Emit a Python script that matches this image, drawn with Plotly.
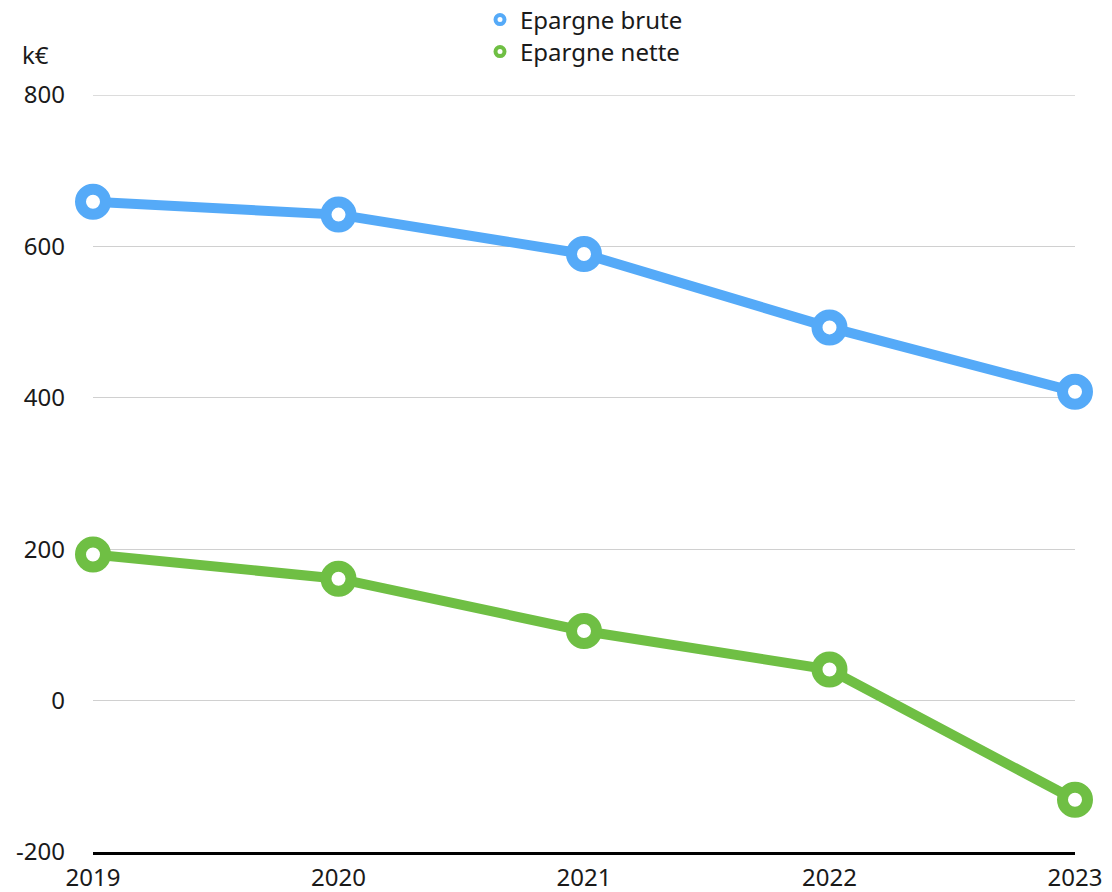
import plotly.graph_objects as go

years = [2019, 2020, 2021, 2022, 2023]
epargne_brute = [659, 642, 590, 493, 408]
epargne_nette = [193, 161, 92, 41, -131]
y_ticks = [-200, 0, 200, 400, 600, 800]
y_tick_labels = ["-200", "0", "200", "400", "600", "800"]

FONT = "Noto Sans"
BLUE = "#55AAF8"
GREEN = "#6FBF44"
GRID = "#d0d0d0"

fig = go.Figure()
series = [("Epargne brute", epargne_brute, BLUE, "legend"),
          ("Epargne nette", epargne_nette, GREEN, "legend2")]
for name, vals, col, lg in series:
    fig.add_trace(go.Scatter(
        x=years, y=vals, name=name, mode="lines+markers",
        line=dict(color=col, width=10),
        marker=dict(symbol="circle", size=25, color="white",
                    line=dict(color=col, width=11)),
        cliponaxis=False, showlegend=False,
    ))
    fig.add_trace(go.Scatter(
        x=[None], y=[None], name=name, mode="markers",
        marker=dict(symbol="circle", size=9, color="white",
                    line=dict(color=col, width=4)),
        showlegend=True, legend=lg,
    ))

def leg(ypix):
    return dict(x=(480 - 93) / 982, xanchor="left", y=1 + (95 - ypix) / 757, yanchor="middle",
                orientation="v", font=dict(size=24), bgcolor="rgba(0,0,0,0)")

fig.update_layout(
    width=1112, height=892,
    margin=dict(l=93, r=37, t=95, b=40, autoexpand=False),
    paper_bgcolor="white", plot_bgcolor="white",
    font=dict(family=FONT, size=24, color="#1a1a1a"),
    showlegend=True,
    legend=leg(20),
    legend2=leg(52),
    xaxis=dict(range=[2019, 2023], tickvals=years, ticktext=[str(y) for y in years],
               showgrid=False, zeroline=False, showline=True, automargin=False,
               linecolor="black", linewidth=3, ticks="", ticklabelstandoff=2),
    yaxis=dict(range=[-200, 800], tickvals=y_ticks, ticktext=y_tick_labels,
               showgrid=True, automargin=False,
               gridcolor=GRID, gridwidth=1, zeroline=False,
               showline=False, ticks="", ticklabelstandoff=27),
    shapes=[dict(type="line", xref="paper", yref="y", x0=0, x1=1,
                 y0=y_ticks[-1], y1=y_ticks[-1], layer="below",
                 line=dict(color=GRID, width=1.5))],
    annotations=[dict(text="k€", xref="paper", yref="paper",
                      x=-93/982, xanchor="left", y=1 + (95-55)/757, yanchor="middle",
                      showarrow=False, xshift=20, font=dict(size=24))],
)

fig.write_html("out.html", config={"displayModeBar": False},
               post_script="document.body.style.margin='0';document.body.style.padding='0';")
